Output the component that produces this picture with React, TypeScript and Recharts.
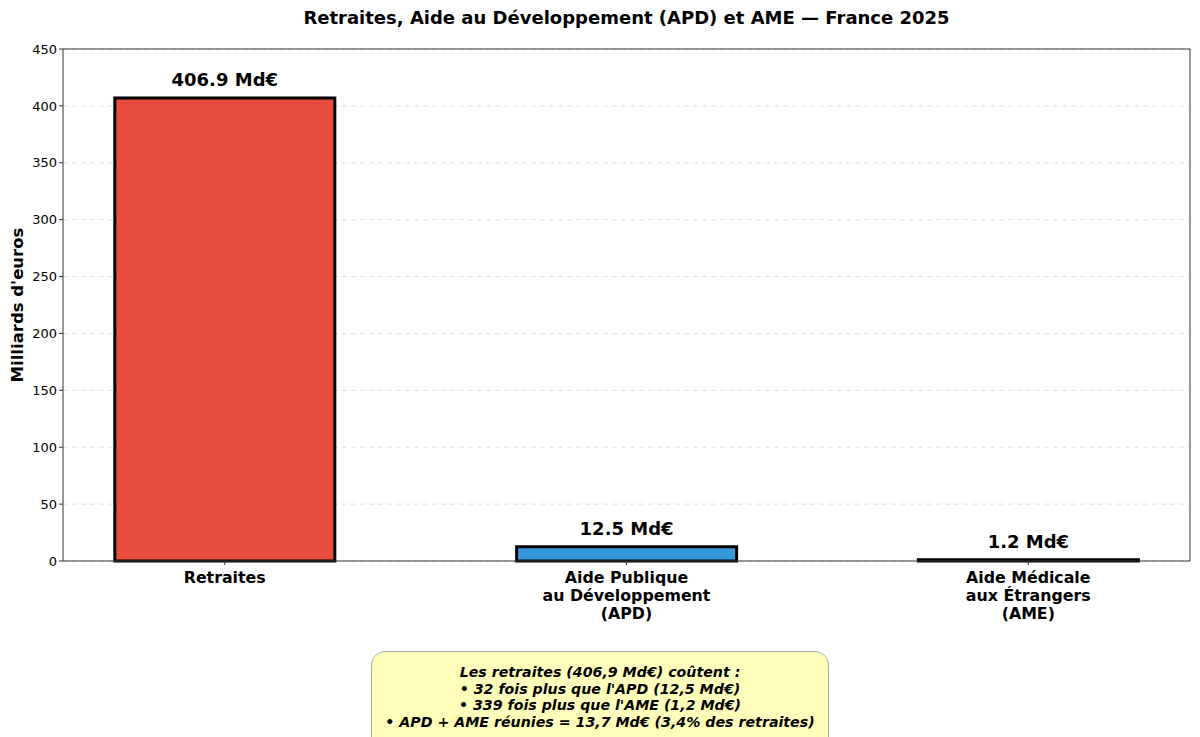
import React from "react";
import {
  BarChart,
  Bar,
  XAxis,
  YAxis,
  CartesianGrid,
  ReferenceLine,
  Cell,
} from "recharts";

const categories = [
  ["Retraites"],
  ["Aide Publique", "au Développement", "(APD)"],
  ["Aide Médicale", "aux Étrangers", "(AME)"],
];
const values = [406.9, 12.5, 1.2];
const colors = ["#e74c3c", "#3498db", "#2ecc71"];
const yTicks = [0, 50, 100, 150, 200, 250, 300, 350, 400, 450];
const noteLines = [
  "Les retraites (406,9 Md€) coûtent :",
  "• 32 fois plus que l'APD (12,5 Md€)",
  "• 339 fois plus que l'AME (1,2 Md€)",
  "• APD + AME réunies = 13,7 Md€ (3,4% des retraites)",
];

const data = values.map((v, i) => ({ x: i, value: v }));

const FONT = "'DejaVu Sans', sans-serif";
const X_MIN = -0.4025;
const X_MAX = 2.4025;

const CategoryTick = (props: any) => {
  const { x, y, payload } = props;
  const lines = categories[payload.value] || [];
  return (
    <text
      x={x}
      y={y + 16}
      textAnchor="middle"
      fontFamily={FONT}
      fontWeight="bold"
      fontSize={15.8}
      fill="#000"
    >
      {lines.map((l, i) => (
        <tspan key={i} x={x} dy={i === 0 ? 0 : 18}>
          {l}
        </tspan>
      ))}
    </text>
  );
};

const ValueLabel = (props: any) => {
  const { x, y, width, value } = props;
  return (
    <text
      x={x + width / 2}
      y={y - 12}
      textAnchor="middle"
      fontFamily={FONT}
      fontWeight="bold"
      fontSize={18}
      fill="#000"
    >
      {`${value.toFixed(1)} Md€`}
    </text>
  );
};

export default function App() {
  return (
    <div
      style={{
        position: "absolute",
        left: 0,
        top: 0,
        width: 1200,
        height: 737,
        background: "#fff",
        overflow: "hidden",
      }}
    >
      {/* title is centred over the plot area, not the page */}
      <div
        style={{
          position: "absolute",
          top: 7,
          left: 63,
          width: 1127,
          textAlign: "center",
          fontFamily: FONT,
          fontWeight: "bold",
          fontSize: 18,
        }}
      >
        Retraites, Aide au Développement (APD) et AME — France 2025
      </div>
      <BarChart
        width={1200}
        height={737}
        data={data}
        margin={{ top: 49, right: 10, bottom: 116, left: 0 }}
      >
        <CartesianGrid
          vertical={false}
          stroke="#e0e0e0"
          strokeDasharray="5 4"
        />
        <XAxis
          type="number"
          dataKey="x"
          domain={[X_MIN, X_MAX]}
          ticks={[0, 1, 2]}
          allowDataOverflow
          height={60}
          tick={<CategoryTick />}
          tickSize={4}
          stroke="#333"
          interval={0}
        />
        <YAxis
          width={63}
          domain={[0, 450]}
          ticks={yTicks}
          interval={0}
          tickSize={4}
          stroke="#333"
          tick={{ fontFamily: FONT, fontSize: 13, fill: "#000" }}
          label={{
            value: "Milliards d'euros",
            angle: -90,
            position: "insideLeft",
            dx: 12,
            style: {
              fontFamily: FONT,
              fontWeight: "bold",
              fontSize: 16.5,
              fill: "#000",
              textAnchor: "middle",
            },
          }}
        />
        <ReferenceLine y={450} stroke="#333" />
        <ReferenceLine x={X_MAX} stroke="#333" />
        <Bar
          dataKey="value"
          barSize={220}
          stroke="#000"
          strokeWidth={3}
          isAnimationActive={false}
          label={<ValueLabel />}
        >
          {data.map((d, i) => (
            <Cell key={i} fill={colors[i]} />
          ))}
        </Bar>
      </BarChart>
      <div
        style={{
          position: "absolute",
          left: 371,
          top: 651,
          width: 458,
          height: 100,
          boxSizing: "border-box",
          background: "#ffffbb",
          border: "1px solid #aaa",
          borderRadius: 14,
          paddingTop: 12,
          textAlign: "center",
          fontFamily: FONT,
          fontWeight: "bold",
          fontStyle: "italic",
          fontSize: 14.2,
          lineHeight: "16.5px",
          color: "#000",
        }}
      >
        {noteLines.map((l, i) => (
          <div key={i}>{l}</div>
        ))}
      </div>
    </div>
  );
}
